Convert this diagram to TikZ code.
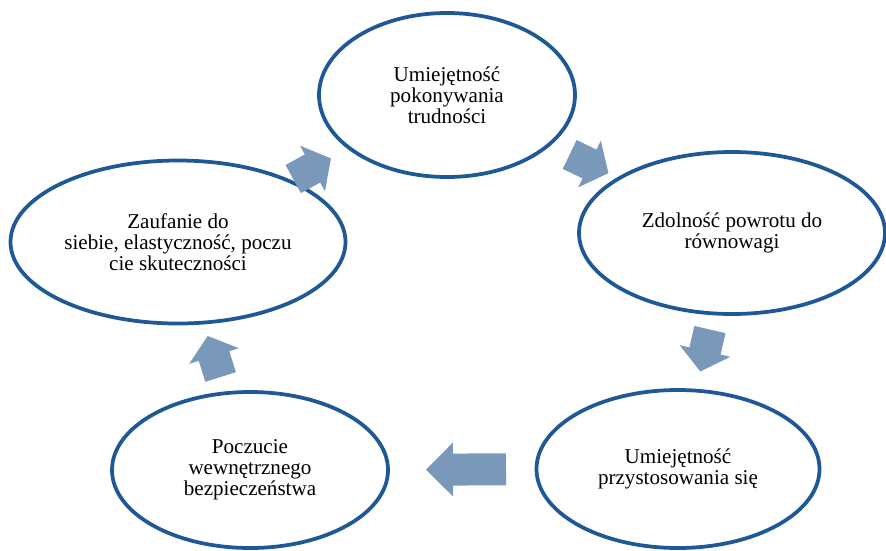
\documentclass[tikz,border=0pt]{standalone}
\usepackage{fontspec}
\setmainfont{Liberation Serif}
\usetikzlibrary{shapes.geometric}
\definecolor{ringblue}{RGB}{31,88,150}
\definecolor{arrblue}{RGB}{122,153,186}
\tikzset{
  ring/.style={ellipse, draw=ringblue, line width=3.2pt, align=center, inner sep=0pt, font=\fontsize{18}{18}\selectfont},
  arrfill/.style={fill=arrblue},
  pics/smallarr/.style={code={\fill[arrfill] (-22,-16)--(0,-16)--(0,-26)--(21,0)--(0,26)--(0,16)--(-22,16)--cycle;}},
  pics/bigarr/.style={code={\fill[arrfill] (-42,-16)--(11,-16)--(11,-27)--(38,0)--(11,27)--(11,16)--(-42,16)--cycle;}}
}
\begin{document}
\begin{tikzpicture}[x=0.03cm,y=-0.03cm]
\useasboundingbox (0,0) rectangle (886,550);
\node[ring, minimum width=7.68cm, minimum height=4.92cm] (skills) at (447,95) {Umiejętność\\pokonywania\\trudności}; %%Top
\node[ring, minimum width=9.18cm, minimum height=4.86cm] (balance) at (732,233) {Zdolność powrotu do\\równowagi}; %%Right
\node[ring, minimum width=8.49cm, minimum height=4.74cm] (adapt) at (678,469) {Umiejętność\\przystosowania się}; %%BottomRight
\node[ring, minimum width=8.28cm, minimum height=4.68cm] (safety) at (250,470) {Poczucie\\wewnętrznego\\bezpieczeństwa}; %%BottomLeft
\node[ring, minimum width=10.05cm, minimum height=4.89cm] (trust) at (178,242) {Zaufanie do\\siebie, elastyczność, poczu\\cie skuteczności}; %%Left
\path (skills.center) -- (balance.center) pic[pos=0.5, sloped, allow upside down] {smallarr};
\path (balance.center) -- (adapt.center) pic[pos=0.5, sloped, allow upside down] {smallarr};
\path (adapt.center) -- (safety.center) pic[pos=0.5, sloped, allow upside down] {bigarr};
\path (safety.center) -- (trust.center) pic[pos=0.5, sloped, allow upside down] {smallarr};
\path (trust.center) -- (skills.center) pic[pos=0.5, sloped, allow upside down] {smallarr};
\end{tikzpicture}
\end{document}
